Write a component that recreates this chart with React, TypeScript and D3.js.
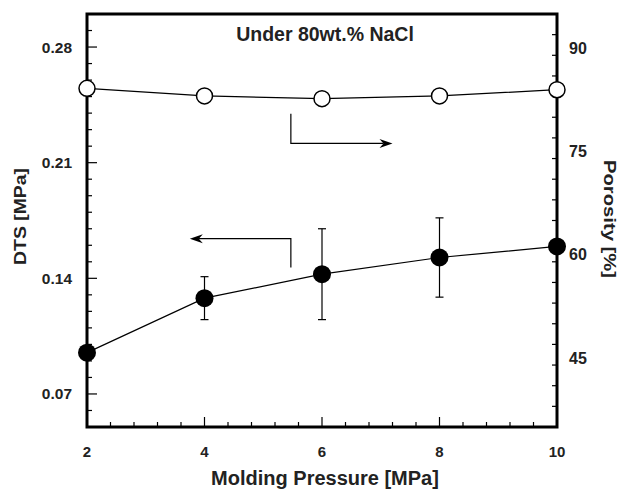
import React from "react";
import * as d3 from "d3";

const pressure = [2, 4, 6, 8, 10];
const dts = [0.095, 0.128, 0.1425, 0.1526, 0.1593];
const dtsErr = [0, 0.013, 0.0275, 0.024, 0];
const porosity = [84.2, 83.1, 82.7, 83.1, 84.0];

const xTicks = [2, 4, 6, 8, 10];
const leftTicks = [0.07, 0.14, 0.21, 0.28];
const rightTicks = [45, 60, 75, 90];

// annotation arrows in data units
const arrowPorosity = { x0: 5.47, x1: 7.2, yTop: 80.5, y: 76.2 };
const arrowDts = { x0: 5.47, x1: 3.75, yBottom: 0.1465, y: 0.164 };

const W = 624, H = 490;
const left = 87, right = 557, top = 14, bottom = 427;
const FONT = "'Liberation Sans', Arial, Helvetica, sans-serif";

export default function App() {
  const x = d3.scaleLinear().domain([2, 10]).range([left, right]);
  const yL = d3.scaleLinear().domain([0.05, 0.30]).range([bottom, top]);
  const yR = d3.scaleLinear().domain([35, 95]).range([bottom, top]);

  const xMinor = d3.range(2, 10.001, 0.4);
  const lMinor = d3.range(0.05, 0.3001, 0.01);
  const rMinor = d3.range(35, 95.01, 3);

  const lineDts = d3.line<number>().x((_, i) => x(pressure[i])).y((d) => yL(d));
  const linePor = d3.line<number>().x((_, i) => x(pressure[i])).y((d) => yR(d));

  const isMajor = (v: number, arr: number[]) => arr.some((m) => Math.abs(m - v) < 1e-6);

  const head = (tx: number, ty: number, dir: number) => {
    const L = 13, hw = 4.5, notch = 9;
    return `M${tx},${ty} L${tx - dir * L},${ty - hw} L${tx - dir * notch},${ty} L${tx - dir * L},${ty + hw} Z`;
  };

  const a1x0 = x(arrowPorosity.x0), a1x1 = x(arrowPorosity.x1);
  const a1yT = yR(arrowPorosity.yTop), a1y = yR(arrowPorosity.y);
  const a2x0 = x(arrowDts.x0), a2x1 = x(arrowDts.x1);
  const a2yB = yL(arrowDts.yBottom), a2y = yL(arrowDts.y);

  return (
    <svg width={W} height={H} style={{ position: "absolute", left: 0, top: 0, background: "#fff" }} fontFamily={FONT}>
      {/* ticks */}
      {xMinor.map((v, i) => {
        const len = isMajor(v, xTicks) ? 10 : 5;
        return <line key={"xt" + i} x1={x(v)} x2={x(v)} y1={bottom} y2={bottom - len} stroke="#000" strokeWidth={1.2} />;
      })}
      {lMinor.map((v, i) => {
        const len = isMajor(v, leftTicks) ? 10 : 5;
        return <line key={"lt" + i} x1={left} x2={left + len} y1={yL(v)} y2={yL(v)} stroke="#000" strokeWidth={1.2} />;
      })}
      {rMinor.map((v, i) => {
        const len = isMajor(v, rightTicks) ? 10 : 5;
        return <line key={"rt" + i} x1={right} x2={right - len} y1={yR(v)} y2={yR(v)} stroke="#000" strokeWidth={1.2} />;
      })}
      {/* frame */}
      <rect x={left} y={top} width={right - left} height={bottom - top} fill="none" stroke="#000" strokeWidth={3} />

      {/* tick labels */}
      {xTicks.map((v) => (
        <text key={"xl" + v} x={x(v)} y={457} textAnchor="middle" fontSize={15} fontWeight="bold" fill="#222">{v}</text>
      ))}
      {leftTicks.map((v) => (
        <text key={"ll" + v} x={72} y={yL(v) + 5.5} textAnchor="end" fontSize={15.5} fontWeight="bold" fill="#222">{v.toFixed(2)}</text>
      ))}
      {rightTicks.map((v) => (
        <text key={"rl" + v} x={569} y={yR(v) + 5.5} textAnchor="start" fontSize={16} fontWeight="bold" fill="#222">{v}</text>
      ))}

      {/* axis titles */}
      <text x={325} y={485} textAnchor="middle" fontSize={20} fontWeight="bold" fill="#222">Molding Pressure [MPa]</text>
      <text transform="translate(25.5,216.5) rotate(-90)" textAnchor="middle" fontSize={16.5} fontWeight="bold" fill="#222" textLength={97} lengthAdjust="spacingAndGlyphs">DTS [MPa]</text>
      <text transform="translate(604,219) rotate(90)" textAnchor="middle" fontSize={16.5} fontWeight="bold" fill="#222" textLength={118} lengthAdjust="spacingAndGlyphs">Porosity [%]</text>
      <text x={325} y={41} textAnchor="middle" fontSize={19.5} fontWeight="bold" fill="#222">Under 80wt.% NaCl</text>

      {/* arrows */}
      <path d={`M${a1x0},${a1yT} L${a1x0},${a1y} L${a1x1 - 9},${a1y}`} fill="none" stroke="#000" strokeWidth={1.2} />
      <path d={head(a1x1, a1y, 1)} fill="#000" />
      <path d={`M${a2x0},${a2yB} L${a2x0},${a2y} L${a2x1 + 9},${a2y}`} fill="none" stroke="#000" strokeWidth={1.2} />
      <path d={head(a2x1, a2y, -1)} fill="#000" />

      {/* error bars */}
      {dts.map((d, i) =>
        dtsErr[i] > 0 ? (
          <g key={"eb" + i} stroke="#000" strokeWidth={1.2}>
            <line x1={x(pressure[i])} x2={x(pressure[i])} y1={yL(d - dtsErr[i])} y2={yL(d + dtsErr[i])} />
            <line x1={x(pressure[i]) - 4} x2={x(pressure[i]) + 4} y1={yL(d - dtsErr[i])} y2={yL(d - dtsErr[i])} />
            <line x1={x(pressure[i]) - 4} x2={x(pressure[i]) + 4} y1={yL(d + dtsErr[i])} y2={yL(d + dtsErr[i])} />
          </g>
        ) : null
      )}

      {/* lines */}
      <path d={linePor(porosity) || ""} fill="none" stroke="#000" strokeWidth={1.2} />
      <path d={lineDts(dts) || ""} fill="none" stroke="#000" strokeWidth={1.2} />

      {/* markers */}
      {porosity.map((p, i) => (
        <circle key={"pc" + i} cx={x(pressure[i])} cy={yR(p)} r={8} fill="#fff" stroke="#000" strokeWidth={1.5} />
      ))}
      {dts.map((d, i) => (
        <circle key={"dc" + i} cx={x(pressure[i])} cy={yL(d)} r={9} fill="#000" />
      ))}
    </svg>
  );
}
